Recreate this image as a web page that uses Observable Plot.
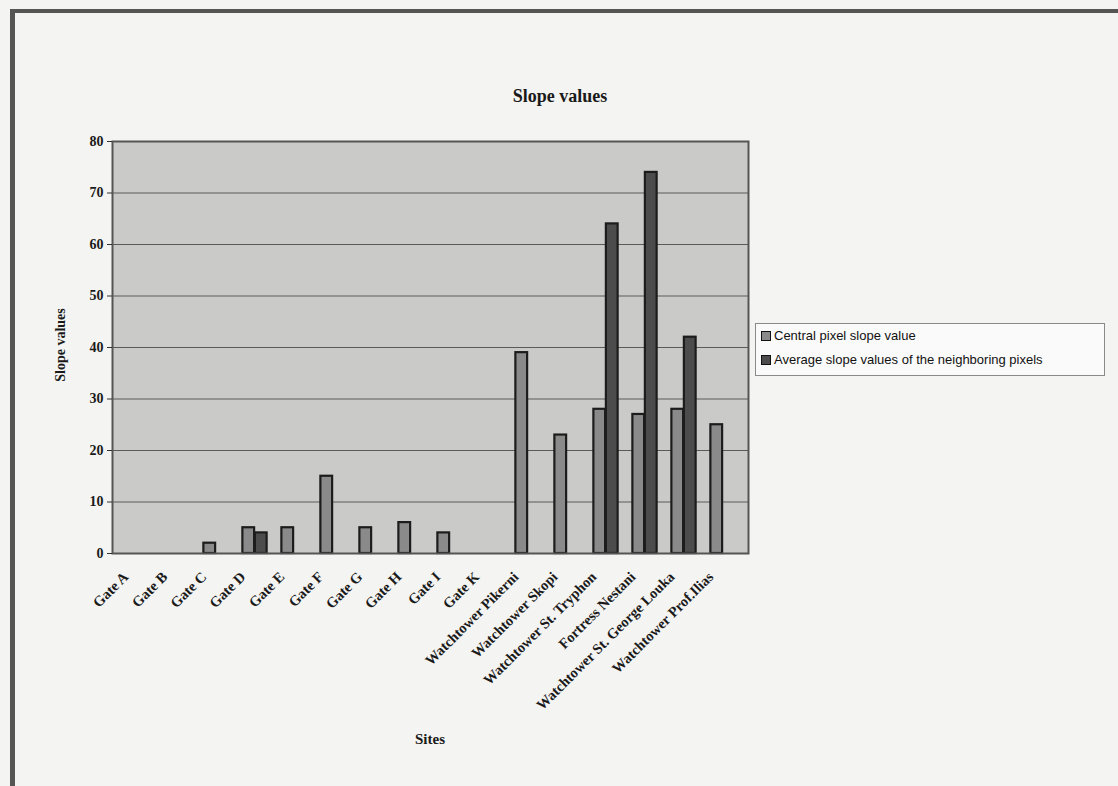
<!DOCTYPE html>
<html>
<head>
<meta charset="utf-8">
<script src="https://cdn.jsdelivr.net/npm/d3@7"></script>
<script src="https://cdn.jsdelivr.net/npm/@observablehq/plot@0.6"></script>
<style>
  html, body { margin: 0; padding: 0; background: #f3f3f3; }
  #wrap { position: relative; width: 1118px; height: 786px; overflow: hidden; background: #f4f4f2; }
  #frameTop { position: absolute; left: 10px; top: 9px; width: 1108px; height: 4px; background: #555; }
  #frameLeft { position: absolute; left: 10px; top: 9px; width: 5px; height: 777px; background: #555; }
  .serif { font-family: "Liberation Serif", "Times New Roman", serif; font-weight: bold; color: #1a1a1a; }
  #title { position: absolute; left: 0; width: 1120px; top: 86px; text-align: center; font-size: 18px; }
  #ylab { position: absolute; left: 61px; top: 345px; font-size: 14px; transform: translate(-50%, -50%) rotate(-90deg); white-space: nowrap; }
  #xlab { position: absolute; left: 430px; top: 731px; font-size: 15px; transform: translateX(-50%); }
  #chart { position: absolute; left: 0; top: 0; }
  #legend { position: absolute; left: 755px; top: 323px; width: 350px; height: 53px; box-sizing: border-box;
            border: 1px solid #8a8a8a; background: #fafafa; font-family: "Liberation Sans", Arial, sans-serif; font-size: 13px; color: #111; }
  .item { position: absolute; left: 5px; display: flex; align-items: center; white-space: nowrap; }
  .sw { width: 10px; height: 10px; margin-right: 3px; box-sizing: border-box; border: 1px solid #111; }
</style>
</head>
<body>
<div id="wrap">
  <div id="frameTop"></div>
  <div id="frameLeft"></div>
  <div id="chart"></div>
  <div id="title" class="serif">Slope values</div>
  <div id="ylab" class="serif">Slope values</div>
  <div id="xlab" class="serif">Sites</div>
  <div id="legend"></div>
</div>
<script>
const sites = ["Gate A", "Gate B", "Gate C", "Gate D", "Gate E", "Gate F", "Gate G", "Gate H", "Gate I", "Gate K",
  "Watchtower Pikerni", "Watchtower Skopi", "Watchtower St. Tryphon", "Fortress Nestani",
  "Watchtower St. George Louka", "Watchtower Prof.Ilias"];
const central = [null, null, 2, 5, 5, 15, 5, 6, 4, null, 39, 23, 28, 27, 28, 25];
const average = [null, null, null, 4, null, null, null, null, null, null, null, null, 64, 74, 42, null];
const seriesNames = ["Central pixel slope value", "Average slope values of the neighboring pixels"];
const seriesColors = ["#8a8a8a", "#4c4c4c"];
const yTicks = [0, 10, 20, 30, 40, 50, 60, 70, 80];

const centralRows = sites.map((s, i) => ({site: s, value: central[i]})).filter(d => d.value != null);
const averageRows = sites.map((s, i) => ({site: s, value: average[i]})).filter(d => d.value != null);

const W = 1118, H = 786;
const mL = 112, mR = 370, mT = 141, mB = 233;
const band = (W - mL - mR) / sites.length;
const bw = 12.5;

const chart = Plot.plot({
  width: W, height: H,
  marginLeft: mL, marginRight: mR, marginTop: mT, marginBottom: mB,
  style: {background: "transparent", color: "#1a1a1a", fontFamily: "Liberation Serif, Times New Roman, serif", fontWeight: "bold", fontSize: "13px"},
  x: {type: "band", domain: sites, padding: 0},
  y: {domain: [0, 80], ticks: yTicks},
  marks: [
    Plot.frame({fill: "#cacac8", stroke: null}),
    Plot.gridY(yTicks.filter(t => t > 0 && t < 80), {stroke: "#5a5a5a", strokeOpacity: 1, strokeWidth: 1.2}),
    Plot.barY(centralRows, {x: "site", y: "value", fill: seriesColors[0], stroke: "#1c1c1c", strokeWidth: 2.2,
      insetLeft: band / 2 - bw, insetRight: band / 2}),
    Plot.barY(averageRows, {x: "site", y: "value", fill: seriesColors[1], stroke: "#1c1c1c", strokeWidth: 2.2,
      insetLeft: band / 2, insetRight: band / 2 - bw}),
    Plot.frame({stroke: "#555", strokeWidth: 2}),
    Plot.axisY(yTicks, {label: null, tickSize: 5, tickPadding: 4, fontSize: 14, fontWeight: "bold",
      fontFamily: "Liberation Serif, Times New Roman, serif", stroke: "#333"}),
    Plot.axisX({label: null, tickSize: 0, tickPadding: 12, tickRotate: -45, fontSize: 14.5, fontWeight: "bold",
      dx: -12, dy: 9, fontFamily: "Liberation Serif, Times New Roman, serif"})
  ]
});
document.getElementById("chart").appendChild(chart);

const legend = document.getElementById("legend");
seriesNames.forEach((name, i) => {
  const it = document.createElement("div");
  it.className = "item";
  it.style.top = (i === 0 ? 4 : 28) + "px";
  const sw = document.createElement("span");
  sw.className = "sw";
  sw.style.background = seriesColors[i];
  const tx = document.createElement("span");
  tx.textContent = name;
  it.appendChild(sw); it.appendChild(tx);
  legend.appendChild(it);
});
</script>
</body>
</html>
